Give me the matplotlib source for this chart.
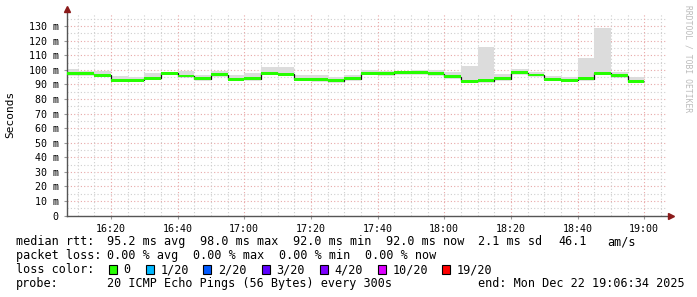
import matplotlib
matplotlib.use("Agg")
import matplotlib.pyplot as plt
from matplotlib.patches import Rectangle
from numpy import array

# Datos (pasos de 5 min, inicio de cada paso)
inicio_pasos = ['16:05', '16:10', '16:15', '16:20', '16:25', '16:30', '16:35',
                '16:40', '16:45', '16:50', '16:55', '17:00', '17:05', '17:10',
                '17:15', '17:20', '17:25', '17:30', '17:35', '17:40', '17:45',
                '17:50', '17:55', '18:00', '18:05', '18:10', '18:15', '18:20',
                '18:25', '18:30', '18:35', '18:40', '18:45', '18:50', '18:55']
fin_datos = '19:00'

mediana = [97.3, 97.3, 96.1, 92.7, 92.7, 94.1, 97.7, 95.7, 93.8, 96.6, 93.4, 93.8,
           97.7, 96.8, 93.6, 93.2, 92.5, 93.8, 97.7, 97.3, 98.0, 98.0, 97.3, 95.4,
           92.0, 92.5, 93.8, 98.0, 96.4, 93.4, 92.9, 93.8, 97.5, 95.9, 92.0]
humo_max = [100.3, 99.0, 98.9, 95.6, 95.2, 97.5, 98.8, 99.3, 96.1, 98.9, 96.1, 97.9,
            102.2, 101.6, 96.1, 96.1, 95.2, 96.1, 99.8, 98.9, 99.3, 100.2, 100.2, 98.4,
            102.7, 116.0, 97.3, 100.5, 98.6, 95.9, 95.0, 108.2, 128.4, 98.2, 95.0]
humo_min = [96.4, 96.5, 95.2, 91.8, 91.9, 93.2, 96.8, 94.9, 93.0, 95.8, 92.6, 93.0,
            96.8, 96.0, 92.8, 92.4, 91.7, 93.0, 96.9, 96.5, 97.2, 97.2, 96.5, 94.6,
            91.1, 91.6, 93.0, 97.1, 95.6, 92.6, 92.1, 93.0, 96.6, 95.1, 91.2]

y_ticks = [0, 10, 20, 30, 40, 50, 60, 70, 80, 90, 100, 110, 120, 130]
y_etiquetas = ['0', '10 m', '20 m', '30 m', '40 m', '50 m', '60 m', '70 m',
               '80 m', '90 m', '100 m', '110 m', '120 m', '130 m']
x_etiquetas = ['16:20', '16:40', '17:00', '17:20', '17:40', '18:00', '18:20',
               '18:40', '19:00']

colores_perdida = ['#26ff00', '#00b8ff', '#0059ff', '#5e00ff', '#7e00ff', '#dd00ff', '#ff0000']
etiquetas_perdida = ['0', '1/20', '2/20', '3/20', '4/20', '10/20', '19/20']

FUENTE = 'DejaVu Sans Mono'
W, H = 697, 297


def minutos(hhmm):
    h, m = hhmm.split(':')
    return (int(h) - 16) * 60 + int(m)


def fx(px):
    return px / W


def fy(py):
    return 1 - py / H


def main():
    plt.rcParams['font.family'] = FUENTE
    fig = plt.figure(figsize=(W / 100, H / 100), dpi=100)
    ax = fig.add_axes([fx(67), fy(215.5), fx(667) - fx(67), fy(13) - fy(215.5)])

    bordes = array([minutos(t) for t in inicio_pasos] + [minutos(fin_datos)])
    med = array(mediana)

    # rejilla
    for v in range(0, 140, 5):
        es_mayor = v % 10 == 0
        ax.axhline(v, color='#e8a8a8' if es_mayor else '#cfcfcf', lw=0.8,
                   ls=(0, (1, 2)), zorder=0)
    for m in range(10, 190, 5):
        es_mayor = m % 20 == 0
        ax.axvline(m, color='#e8a8a8' if es_mayor else '#cfcfcf', lw=0.8,
                   ls=(0, (1, 2)), zorder=0)

    # humo, linea y banda de la mediana
    ax.stairs(humo_max, bordes, baseline=humo_min, fill=True, color='#dcdcdc',
              lw=0, zorder=1)
    ax.stairs(med, bordes, baseline=None, color='#111111', lw=0.9, zorder=2)
    ax.stairs(med + 0.95, bordes, baseline=med - 0.95, fill=True,
              color=colores_perdida[0], lw=0, zorder=3)

    ax.set_xlim(6.85, 186.85)
    ax.set_ylim(0, 139)
    ax.set_yticks(y_ticks)
    ax.set_yticklabels(y_etiquetas)
    ax.set_xticks([minutos(t) for t in x_etiquetas])
    ax.set_xticklabels(x_etiquetas)
    ax.tick_params(labelsize=7.2, length=2, width=0.8, color='#999999', pad=4)

    for lado in ['top', 'right']:
        ax.spines[lado].set_visible(False)
    for lado in ['left', 'bottom']:
        ax.spines[lado].set_color('#555555')
        ax.spines[lado].set_linewidth(1.0)
    ax.plot([1.006], [0], marker='>', ms=4, color='#8b1a1a', transform=ax.transAxes,
            clip_on=False, zorder=5)
    ax.plot([0], [1.02], marker='^', ms=4, color='#8b1a1a', transform=ax.transAxes,
            clip_on=False, zorder=5)

    fig.text(fx(10.5), fy(114), 'Seconds', rotation=90, ha='center', va='center',
             fontsize=8)
    fig.text(fx(688), fy(5), 'RRDTOOL / TOBI OETIKER', rotation=270, ha='center',
             va='top', fontsize=5.8, color='#bbbbbb')

    # leyenda
    tam = 8.5
    lineas = [
        (245.3, [(16, 'median rtt:'), (107, '95.2 ms avg'), (200, '98.0 ms max'),
                 (293, '92.0 ms min'), (386, '92.0 ms now'), (478, '2.1 ms sd'),
                 (558, '46.1'), (607, 'am/s')]),
        (259.2, [(16, 'packet loss:'), (107, '0.00 % avg'), (193, '0.00 % max'),
                 (279, '0.00 % min'), (365, '0.00 % now')]),
        (273.1, [(16, 'loss color:')]),
        (287.0, [(16, 'probe:'), (107, '20 ICMP Echo Pings (56 Bytes) every 300s'),
                 (478, 'end: Mon Dec 22 19:06:34 2025')]),
    ]
    for base, piezas in lineas:
        for x, texto in piezas:
            fig.text(fx(x), fy(base), texto, ha='left', va='baseline', fontsize=tam)

    x_cuadros = [108.7, 145.7, 203.3, 261.7, 320, 378.3, 442]
    for xc, color, etiqueta in zip(x_cuadros, colores_perdida, etiquetas_perdida):
        fig.patches.append(Rectangle((fx(xc), fy(273.6)), 8 / W, 9 / H, facecolor=color,
                                     edgecolor='black', lw=0.8,
                                     transform=fig.transFigure, figure=fig))
        fig.text(fx(xc + 14.6), fy(273.1), etiqueta, ha='left', va='baseline',
                 fontsize=tam)

    fig.savefig('out.png', dpi=100, facecolor='white')


if __name__ == "__main__":
    main()
